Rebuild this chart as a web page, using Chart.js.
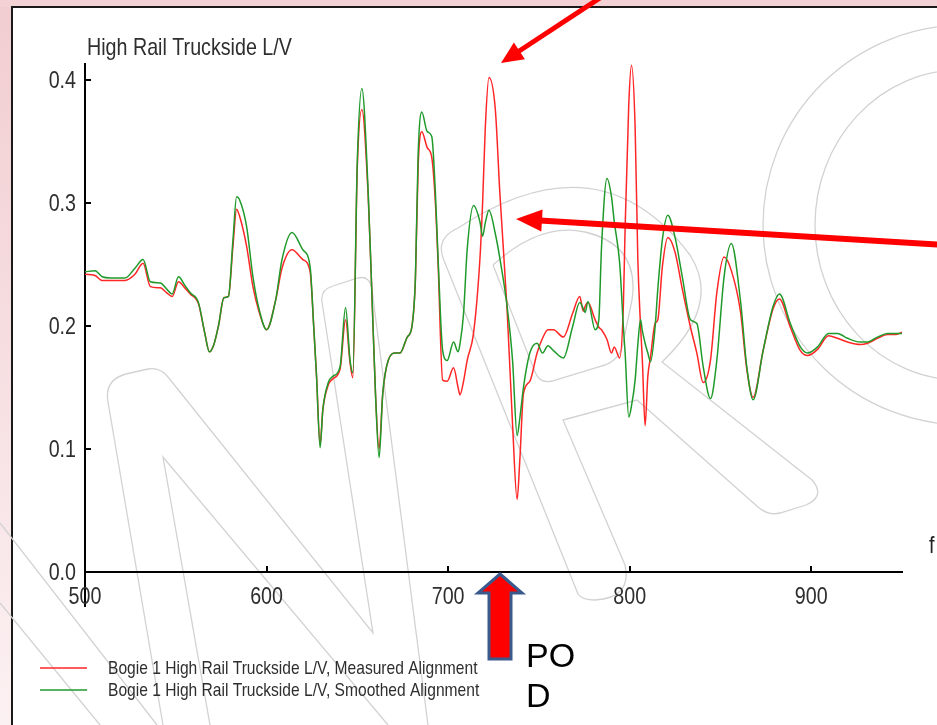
<!DOCTYPE html>
<html>
<head>
<meta charset="utf-8">
<script src="https://cdn.jsdelivr.net/npm/chart.js@4.4.1/dist/chart.umd.min.js"></script>
<style>
    html, body { margin: 0; padding: 0; background: #fff; }
    #wrap { position: relative; width: 937px; height: 725px; overflow: hidden; }
</style>
</head>
<body>
<div id="wrap"><canvas id="truckside" width="937" height="725"></canvas></div>
<script>
const distance = [
    500, 505.5, 509.5, 514, 522, 527.5, 532, 536, 541.5, 545,
    548, 551.5, 555, 558, 562.5, 566, 568.5, 571, 573.5, 576.5,
    579, 581.5, 583.5, 585, 589, 592.5, 596, 600, 605, 608.5,
    614, 620, 624, 626, 627.5, 629.5, 631, 634, 636.5, 640.5,
    643.5, 646, 647.5, 650, 652.5, 656, 658, 660, 662, 664,
    667, 671, 673.5, 677.5, 680, 682, 683.5, 685.5, 688.5, 691,
    693, 694.5, 697, 699.5, 703, 705.5, 706.5, 708.5, 710.5, 714,
    717.5, 719, 720.5, 722.5, 726, 728.5, 732.5, 735.5, 738, 739.5,
    741.5, 745, 749, 752, 755, 758, 763.5, 768.5, 772.5, 774.5,
    775.5, 777, 781, 783, 784.5, 787.5, 790, 791.5, 794.5, 796.5,
    797.5, 799.5, 801, 803, 804.5, 806, 807, 808.5, 810, 811.5,
    814, 815.5, 818, 821, 825, 829, 833.5, 837, 840.5, 844.5,
    848, 852, 856, 861, 864.5, 868, 873.5, 879, 882.5, 888.5,
    894, 898, 903.5, 909.5, 914.5, 920, 927, 931, 936.5, 942,
    946.5, 950
];
const measured = [
    .242, .241, .237, .237, .237, .242, .251, .232, .231, .227,
    .224, .236, .231, .226, .218, .194, .179, .185, .200, .223,
    .224, .265, .295, .290, .265, .232, .211, .197, .221, .247,
    .262, .254, .244, .199, .160, .104, .132, .152, .157, .165,
    .205, .170, .158, .330, .376, .305, .227, .145, .100, .145,
    .172, .178, .178, .191, .199, .238, .330, .358, .345, .337,
    .300, .250, .156, .155, .166, .150, .144, .155, .172, .194,
    .254, .300, .362, .402, .376, .308, .213, .120, .059, .091,
    .145, .155, .178, .190, .197, .197, .191, .210, .224, .212,
    .216, .219, .205, .199, .197, .189, .178, .183, .174, .215,
    .280, .380, .412, .362, .254, .200, .172, .119, .159, .175,
    .202, .205, .248, .272, .260, .230, .199, .178, .154, .172,
    .227, .256, .245, .212, .165, .142, .180, .214, .222, .199,
    .180, .176, .181, .192, .190, .187, .185, .186, .190, .193,
    .193, .195
];
const smoothed = [
    .244, .245, .240, .239, .239, .247, .254, .236, .235, .230,
    .226, .240, .233, .227, .219, .194, .179, .185, .200, .223,
    .224, .270, .305, .303, .281, .240, .213, .197, .221, .254,
    .276, .262, .248, .199, .160, .101, .132, .154, .159, .167,
    .215, .172, .162, .335, .393, .308, .227, .145, .093, .145,
    .172, .178, .178, .191, .199, .240, .340, .374, .358, .354,
    .308, .254, .180, .172, .187, .179, .185, .210, .262, .298,
    .285, .273, .284, .294, .275, .255, .216, .172, .111, .125,
    .150, .178, .186, .178, .184, .180, .174, .199, .219, .214,
    .211, .220, .197, .205, .264, .320, .305, .285, .251, .200,
    .178, .126, .135, .156, .185, .205, .196, .186, .178, .171,
    .199, .230, .270, .290, .272, .240, .205, .202, .167, .141,
    .172, .240, .267, .221, .167, .140, .180, .216, .226, .202,
    .183, .178, .183, .194, .194, .190, .187, .187, .191, .194,
    .194, .194
];
const xTicks = [500, 600, 700, 800, 900];
const yTicks = [0, 0.1, 0.2, 0.3, 0.4];
const seriesNames = [
    'Bogie 1 High Rail Truckside L/V, Measured Alignment',
    'Bogie 1 High Rail Truckside L/V, Smoothed Alignment'
];
const chartTitle = 'High Rail Truckside L/V';

const SANS = "'Liberation Sans', Arial, sans-serif";
const SQUEEZE = 0.82;  // the original uses a narrow face, no narrow font here

function squeezed(ctx, text, x, y, size, align, baseline, color) {
    ctx.save();
    ctx.scale(SQUEEZE, 1);
    ctx.font = size + 'px ' + SANS;
    ctx.textAlign = align;
    ctx.textBaseline = baseline;
    ctx.fillStyle = color;
    ctx.fillText(text, x / SQUEEZE, y);
    ctx.restore();
}

function arrow(ctx, x0, y0, x1, y1, w, headLen, headHalf, color) {
    const len = Math.hypot(x1 - x0, y1 - y0);
    const ux = (x1 - x0) / len, uy = (y1 - y0) / len;
    const bx = x1 - ux * headLen, by = y1 - uy * headLen;
    ctx.strokeStyle = color;
    ctx.fillStyle = color;
    ctx.lineWidth = w;
    ctx.lineCap = 'butt';
    ctx.beginPath();
    ctx.moveTo(x0, y0);
    ctx.lineTo(bx + ux * 2, by + uy * 2);
    ctx.stroke();
    ctx.beginPath();
    ctx.moveTo(x1, y1);
    ctx.lineTo(bx - uy * headHalf, by + ux * headHalf);
    ctx.lineTo(bx + uy * headHalf, by - ux * headHalf);
    ctx.closePath();
    ctx.fill();
}

// pink slide frame + faint NRC watermark behind the plot
const backdrop = {
    id: 'backdrop',
    beforeDraw(chart) {
        const ctx = chart.ctx;
        ctx.save();
        const g = ctx.createLinearGradient(0, 0, 0, 725);
        g.addColorStop(0, '#f1cdd1');
        g.addColorStop(1, '#fcf1f2');
        ctx.fillStyle = g;
        ctx.fillRect(0, 0, 937, 725);
        ctx.fillStyle = '#f2d2d5';
        ctx.fillRect(0, 0, 937, 7);
        ctx.fillStyle = '#ffffff';
        ctx.fillRect(13, 8, 924, 717);
        ctx.strokeStyle = '#1a1a1a';
        ctx.lineWidth = 2;
        ctx.beginPath();
        ctx.moveTo(12, 725);
        ctx.lineTo(12, 7);
        ctx.lineTo(937, 7);
        ctx.stroke();

        ctx.strokeStyle = '#d2d2d2';
        ctx.lineWidth = 1.3;
        ctx.beginPath();
        // N
        ctx.moveTo(163, 725); ctx.lineTo(108, 402);
        ctx.quadraticCurveTo(104, 380, 126, 374); ctx.lineTo(148, 369);
        ctx.quadraticCurveTo(160, 367, 168, 377); ctx.lineTo(373, 633);
        ctx.lineTo(322, 302); ctx.quadraticCurveTo(320, 290, 333, 286);
        ctx.lineTo(358, 278); ctx.quadraticCurveTo(370, 275, 372, 290);
        ctx.lineTo(428, 725);
        ctx.moveTo(210, 725); ctx.lineTo(163, 457); ctx.lineTo(388, 725);
        ctx.moveTo(0, 523); ctx.lineTo(157, 725);
        ctx.moveTo(0, 603); ctx.lineTo(100, 725);
        // R
        ctx.moveTo(578, 594); ctx.lineTo(443, 258);
        ctx.quadraticCurveTo(436, 238, 458, 228);
        ctx.quadraticCurveTo(600, 135, 690, 255);
        ctx.quadraticCurveTo(722, 305, 662, 362);
        ctx.lineTo(812, 480); ctx.quadraticCurveTo(826, 496, 806, 505);
        ctx.lineTo(780, 513); ctx.quadraticCurveTo(768, 516, 758, 507);
        ctx.lineTo(637, 400); ctx.lineTo(563, 420); ctx.lineTo(625, 565);
        ctx.quadraticCurveTo(632, 598, 595, 600);
        ctx.quadraticCurveTo(582, 600, 578, 594);
        ctx.moveTo(493, 265); ctx.quadraticCurveTo(540, 222, 585, 232);
        ctx.quadraticCurveTo(640, 245, 632, 300); ctx.lineTo(622, 348);
        ctx.quadraticCurveTo(617, 362, 602, 366); ctx.lineTo(552, 381);
        ctx.quadraticCurveTo(540, 384, 535, 372); ctx.lineTo(493, 265);
        ctx.stroke();
        // C
        ctx.beginPath();
        ctx.ellipse(965, 225, 202, 200, 0, 0, Math.PI * 2);
        ctx.stroke();
        ctx.beginPath();
        ctx.ellipse(960, 225, 145, 155, 0, 0, Math.PI * 2);
        ctx.stroke();
        ctx.restore();
    }
};

const overlay = {
    id: 'overlay',
    afterDraw(chart) {
        const ctx = chart.ctx;
        const xs = chart.scales.x, ys = chart.scales.y;
        const area = chart.chartArea;
        ctx.save();

        // inward tick marks and the y axis running down past zero
        ctx.strokeStyle = '#000';
        ctx.lineWidth = 2;
        ctx.beginPath();
        yTicks.forEach(v => {
            const y = Math.round(ys.getPixelForValue(v));
            ctx.moveTo(area.left, y);
            ctx.lineTo(area.left + 6, y);
        });
        xTicks.forEach(v => {
            const x = Math.round(xs.getPixelForValue(v));
            ctx.moveTo(x, area.bottom);
            ctx.lineTo(x, area.bottom - 6);
        });
        ctx.moveTo(area.left, area.bottom);
        ctx.lineTo(area.left, area.bottom + 35);
        ctx.stroke();

        // tick labels, placed from the scales
        yTicks.forEach(v => {
            squeezed(ctx, v.toFixed(1), area.left - 9, ys.getPixelForValue(v) + 1, 24, 'right', 'middle', '#2e2e2e');
        });
        xTicks.forEach(v => {
            squeezed(ctx, String(v), xs.getPixelForValue(v), area.bottom + 25, 24, 'center', 'middle', '#2e2e2e');
        });

        squeezed(ctx, chartTitle, 87, 55, 24, 'left', 'alphabetic', '#2e2e2e');

        // legend
        chart.data.datasets.forEach((ds, i) => {
            const y = 668 + i * 22;
            ctx.strokeStyle = ds.borderColor;
            ctx.lineWidth = 1.5;
            ctx.beginPath();
            ctx.moveTo(40, y);
            ctx.lineTo(87, y);
            ctx.stroke();
            squeezed(ctx, ds.label, 108, y + 1, 19, 'left', 'middle', '#2e2e2e');
        });

        // callout arrows
        arrow(ctx, 606, -6, 501, 63, 5, 22, 10, '#ff0000');
        arrow(ctx, 945, 245, 516, 219, 6, 26, 11, '#ff0000');

        // POD marker
        ctx.beginPath();
        ctx.moveTo(500, 574);
        ctx.lineTo(522, 593);
        ctx.lineTo(511, 593);
        ctx.lineTo(511, 659);
        ctx.lineTo(489, 659);
        ctx.lineTo(489, 593);
        ctx.lineTo(478, 593);
        ctx.closePath();
        ctx.fillStyle = '#ff0000';
        ctx.fill();
        ctx.strokeStyle = '#3a5a8e';
        ctx.lineWidth = 3;
        ctx.lineJoin = 'miter';
        ctx.stroke();

        ctx.fillStyle = '#000';
        ctx.textAlign = 'left';
        ctx.textBaseline = 'alphabetic';
        ctx.font = '34px ' + SANS;
        ctx.fillText('PO', 526, 667);
        ctx.fillText('D', 526, 707);
        squeezed(ctx, 'f', 929, 553, 24, 'left', 'alphabetic', '#222');
        ctx.restore();
    }
};

new Chart(document.getElementById('truckside'), {
    type: 'line',
    data: {
        datasets: [{
            label: seriesNames[0],
            data: distance.map((x, i) => ({ x: x, y: measured[i] })),
            borderColor: '#ff2626',
            borderWidth: 1.5,
            pointRadius: 0,
            cubicInterpolationMode: 'monotone',
            order: 1
        },
        {
            label: seriesNames[1],
            data: distance.map((x, i) => ({ x: x, y: smoothed[i] })),
            borderColor: '#1f9a2a',
            borderWidth: 1.5,
            pointRadius: 0,
            cubicInterpolationMode: 'monotone',
            order: 0
        }]
    },
    options: {
        responsive: false,
        animation: false,
        layout: { padding: { top: 64, right: 35, left: 0, bottom: 0 } },
        plugins: {
            legend: { display: false },
            tooltip: { enabled: false }
        },
        scales: {
            x: {
                type: 'linear',
                min: 500,
                max: 950,
                afterFit: s => { s.height = 153; },
                afterBuildTicks: s => { s.ticks = xTicks.map(v => ({ value: v })); },
                grid: { display: false, drawTicks: false },
                border: { color: '#000', width: 2 },
                ticks: { display: false }
            },
            y: {
                min: 0,
                max: 0.413,
                afterFit: s => { s.width = 85; },
                afterBuildTicks: s => { s.ticks = yTicks.map(v => ({ value: v })); },
                grid: { display: false, drawTicks: false },
                border: { color: '#000', width: 2 },
                ticks: { display: false }
            }
        }
    },
    plugins: [backdrop, overlay]
});
</script>
</body>
</html>
